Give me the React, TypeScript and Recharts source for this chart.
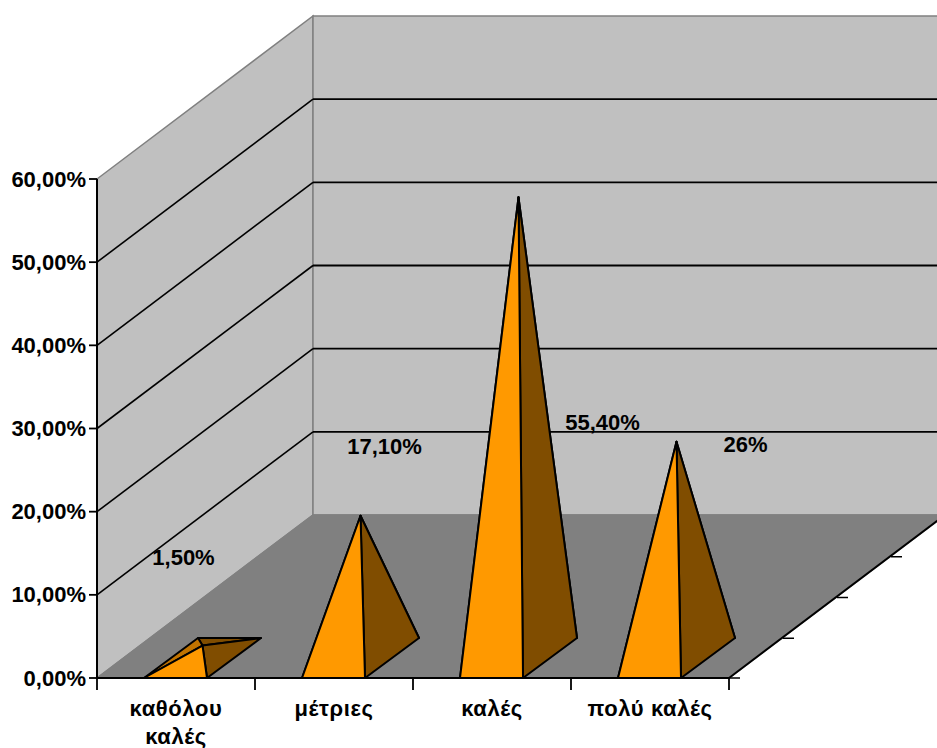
import React from "react";
import {
  Bar,
  BarChart,
  CartesianGrid,
  LabelList,
  XAxis,
  YAxis,
  usePlotArea,
} from "recharts";

const categories = ["καθόλου καλές", "μέτριες", "καλές", "πολύ καλές"];
const values = [1.5, 17.1, 55.4, 26];
const valueLabels = ["1,50%", "17,10%", "55,40%", "26%"];
const yTicks = [0, 10, 20, 30, 40, 50, 60];

const data = categories.map((name, i) => ({
  name,
  value: values[i],
  label: valueLabels[i],
}));

// the labels were moved by hand in the original, so they don't follow the bars
const labelOffsets = [
  [7, -108],
  [50, -89],
  [110, 205],
  [95, -17],
];

const WIDTH = 937;
const HEIGHT = 748;
const LEFT = 97;
const TOP = 179;
const RIGHT = 208;
const BOTTOM = 70;
const BAND = (WIDTH - LEFT - RIGHT) / categories.length;

// 3D depth of the floor, one step per series slot
const DEPTH_X = 216;
const DEPTH_Y = 163;
const DEPTH_STEPS = 4;
const PYRAMID_DX = 54;
const PYRAMID_DY = 40;

const FONT = "'Liberation Sans', Arial, sans-serif";
const pts = (list: number[][]) => list.map((p) => p.join(",")).join(" ");

const Walls = () => {
  const plot = usePlotArea();
  if (!plot) return null;
  const l = plot.x;
  const r = plot.x + plot.width;
  const t = plot.y;
  const b = plot.y + plot.height;
  const stepsX = DEPTH_X / DEPTH_STEPS;
  const stepsY = DEPTH_Y / DEPTH_STEPS;
  return (
    <g>
      <polygon
        points={pts([[l, t], [l + DEPTH_X, t - DEPTH_Y], [l + DEPTH_X, b - DEPTH_Y], [l, b]])}
        fill="#C0C0C0"
        stroke="#808080"
        strokeWidth={1.5}
      />
      <polygon
        points={pts([[l + DEPTH_X, t - DEPTH_Y], [r + DEPTH_X, t - DEPTH_Y], [r + DEPTH_X, b - DEPTH_Y], [l + DEPTH_X, b - DEPTH_Y]])}
        fill="#C0C0C0"
        stroke="#808080"
        strokeWidth={1.5}
      />
      <polygon
        points={pts([[l, b], [l + DEPTH_X, b - DEPTH_Y], [r + DEPTH_X, b - DEPTH_Y], [r, b]])}
        fill="#808080"
        stroke="#808080"
        strokeWidth={1.5}
      />
      <line x1={r} y1={b} x2={r + DEPTH_X} y2={b - DEPTH_Y} stroke="#000" strokeWidth={2} />
      {[0, 1, 2, 3].map((i) => (
        <line
          key={i}
          x1={r + stepsX * i}
          y1={b - stepsY * i + (i ? 1 : 0)}
          x2={r + stepsX * i + 11}
          y2={b - stepsY * i + (i ? 1 : 0)}
          stroke="#000"
          strokeWidth={1.5}
        />
      ))}
    </g>
  );
};

const WallLine = (props: any) => {
  const { y1 } = props;
  if (y1 <= TOP + 1 || y1 >= HEIGHT - BOTTOM - 1) return <g key={y1} />;
  const backY = y1 - DEPTH_Y;
  return (
    <g key={y1}>
      <line x1={LEFT} y1={y1} x2={LEFT + DEPTH_X} y2={backY} stroke="#000" strokeWidth={1.6} />
      <line x1={LEFT + DEPTH_X} y1={backY} x2={WIDTH} y2={backY} stroke="#000" strokeWidth={1.8} />
    </g>
  );
};

const Pyramid = (props: any) => {
  const { y, width, height } = props;
  // recharts rounds the band to the right, the original sits one pixel left
  const x = props.x - 1;
  const base = y + height;
  const fl = [x, base];
  const fr = [x + width, base];
  const bl = [x + PYRAMID_DX, base - PYRAMID_DY];
  const br = [x + width + PYRAMID_DX, base - PYRAMID_DY];
  // the tip stands on the middle of the base, half a step back
  const apex = [x + width / 2 + PYRAMID_DX / 2, y - PYRAMID_DY / 2];
  const face = { stroke: "#000", strokeWidth: 2, strokeLinejoin: "round" as const };
  return (
    <g>
      <polygon points={pts([bl, br, apex])} fill="#804D00" {...face} />
      <polygon points={pts([fl, bl, apex])} fill="#C07300" {...face} />
      <polygon points={pts([fr, br, apex])} fill="#804D00" {...face} />
      <polygon points={pts([fl, fr, apex])} fill="#FF9900" {...face} />
    </g>
  );
};

const ValueLabel = (props: any) => {
  const { viewBox, value, index } = props;
  const [dx, dy] = labelOffsets[index];
  return (
    <text
      x={viewBox.x + viewBox.width / 2 + dx}
      y={viewBox.y + dy}
      textAnchor="middle"
      dominantBaseline="central"
      fontFamily={FONT}
      fontWeight="bold"
      fontSize={22}
      fill="#000"
    >
      {value}
    </text>
  );
};

const YTick = (props: any) => {
  const { y, payload } = props;
  const text = `${payload.value.toFixed(2).replace(".", ",")}%`;
  return (
    <g>
      <line x1={LEFT - 8} y1={y} x2={LEFT} y2={y} stroke="#000" strokeWidth={1.8} />
      <text
        x={LEFT - 11}
        y={y}
        textAnchor="end"
        dominantBaseline="central"
        fontFamily={FONT}
        fontWeight="bold"
        fontSize={22}
        fill="#000"
      >
        {text}
      </text>
    </g>
  );
};

const XTick = (props: any) => {
  const { x, y, payload, index } = props;
  const words = String(payload.value).split(" ");
  // the long label wraps, the two word one that fits stays on its line
  const lines = words.join(" ").length > 10 ? words : [words.join(" ")];
  const left = x - BAND / 2;
  return (
    <g>
      <line x1={left} y1={y} x2={left} y2={y + 12} stroke="#000" strokeWidth={1.8} />
      {index === categories.length - 1 && (
        <line x1={left + BAND} y1={y} x2={left + BAND} y2={y + 12} stroke="#000" strokeWidth={1.8} />
      )}
      {lines.map((line, i) => (
        <text
          key={line}
          x={x}
          y={y + 38 + i * 28}
          textAnchor="middle"
          fontFamily={FONT}
          fontWeight="bold"
          fontSize={22}
          letterSpacing={0.6}
          fill="#000"
        >
          {line}
        </text>
      ))}
    </g>
  );
};

export default function App() {
  return (
    <div style={{ position: "absolute", left: 0, top: 0, width: WIDTH, height: HEIGHT, background: "#fff" }}>
      <BarChart
        width={WIDTH}
        height={HEIGHT}
        data={data}
        barSize={63}
        margin={{ top: TOP, right: RIGHT, bottom: 0, left: 0 }}
      >
        <Walls />
        <CartesianGrid vertical={false} horizontal={WallLine as any} zIndex={1} />
        <XAxis
          dataKey="name"
          height={BOTTOM}
          interval={0}
          tickLine={false}
          tickSize={0}
          tickMargin={0}
          axisLine={{ stroke: "#000", strokeWidth: 2 }}
          tick={XTick as any}
        />
        <YAxis
          width={LEFT}
          domain={[0, 60]}
          ticks={yTicks}
          interval={0}
          tickLine={false}
          axisLine={{ stroke: "#000", strokeWidth: 2 }}
          tick={YTick as any}
        />
        <Bar dataKey="value" shape={Pyramid as any} isAnimationActive={false}>
          <LabelList dataKey="label" content={ValueLabel as any} />
        </Bar>
      </BarChart>
    </div>
  );
}
